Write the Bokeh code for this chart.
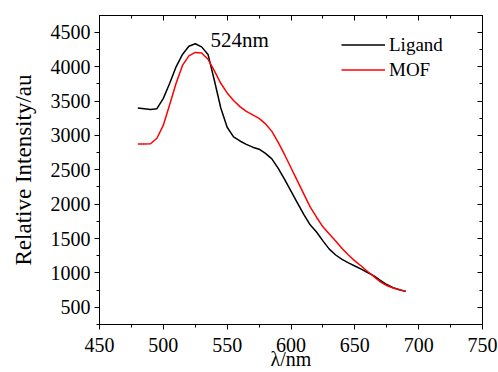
from bokeh.plotting import figure
from bokeh.models import (Range1d, LinearAxis, SingleIntervalTicker, Legend, LegendItem,
                          Label, CustomJSTickFormatter)
from bokeh.embed import file_html
from bokeh.resources import INLINE

wavelength = [480, 485, 490, 495, 500, 505, 510, 515, 520, 525, 530, 535, 540, 545, 550,
              555, 560, 565, 570, 575, 580, 585, 590, 595, 600, 605, 610, 615, 620, 625,
              630, 635, 640, 645, 650, 655, 660, 665, 670, 675, 680, 685, 690]
ligand = [3400, 3390, 3380, 3390, 3540, 3760, 4000, 4180, 4300, 4335, 4290, 4180, 3800, 3400, 3120,
          2980, 2920, 2870, 2830, 2800, 2740, 2660, 2520, 2360, 2190, 2020, 1850, 1700, 1595, 1465,
          1345, 1260, 1195, 1145, 1100, 1055, 1005, 955, 892, 830, 785, 755, 730]
mof = [2875, 2875, 2880, 2960, 3150, 3450, 3760, 4020, 4160, 4210, 4200, 4110, 3940, 3760, 3620,
       3510, 3420, 3350, 3300, 3250, 3170, 3060, 2900, 2720, 2530, 2340, 2150, 1960, 1810, 1670,
       1565, 1465, 1355, 1260, 1175, 1100, 1020, 945, 868, 815, 780, 752, 730]
series_names = ["Ligand", "MOF"]
peak_label = "524nm"
peak_x, peak_y = 537, 4385

FONT = "Liberation Serif"

p = figure(width=498, height=372, output_backend="svg", toolbar_location=None,
           x_range=Range1d(450, 750), y_range=Range1d(248, 4747),
           min_border_left=99, min_border_right=16, min_border_top=15, min_border_bottom=48,
           x_axis_location=None, y_axis_location=None)
p.outline_line_color = "black"
p.outline_line_width = 1
p.xgrid.visible = False
p.ygrid.visible = False
p.background_fill_color = "white"
p.border_fill_color = "white"

def style(ax, labels=True, outward=True):
    ax.axis_line_color = "black"
    ax.axis_line_width = 1
    ax.major_tick_line_color = "black"
    ax.minor_tick_line_color = "black"
    if outward:
        ax.major_tick_out, ax.major_tick_in = 5, 0
        ax.minor_tick_out, ax.minor_tick_in = 3, 0
    else:
        ax.major_tick_out, ax.major_tick_in = 0, 5
        ax.minor_tick_out, ax.minor_tick_in = 0, 3
    if labels:
        ax.major_label_text_font = FONT
        ax.major_label_text_font_size = "20px"
        ax.major_label_text_color = "black"
    else:
        ax.formatter = CustomJSTickFormatter(code="return ''")
        ax.major_label_text_font_size = "0px"
        ax.major_label_standoff = 0

xb = LinearAxis(ticker=SingleIntervalTicker(interval=50, num_minor_ticks=2))
style(xb)
xb.major_label_standoff = 8
xb.axis_label = "λ/nm"
xb.axis_label_text_font = FONT
xb.axis_label_text_font_size = "20px"
xb.axis_label_text_font_style = "normal"
xb.axis_label_text_color = "black"
xb.axis_label_standoff = -7
p.add_layout(xb, "below")

yl = LinearAxis(ticker=SingleIntervalTicker(interval=500, num_minor_ticks=2))
style(yl)
yl.major_label_standoff = 4
yl.axis_label = "Relative Intensity/au"
yl.axis_label_text_font = FONT
yl.axis_label_text_font_size = "23px"
yl.axis_label_text_font_style = "normal"
yl.axis_label_text_color = "black"
yl.axis_label_standoff = 12
p.add_layout(yl, "left")

xt = LinearAxis(ticker=SingleIntervalTicker(interval=50, num_minor_ticks=2))
style(xt, labels=False, outward=False)
p.add_layout(xt, "above")

yr = LinearAxis(ticker=SingleIntervalTicker(interval=500, num_minor_ticks=2))
style(yr, labels=False, outward=False)
p.add_layout(yr, "right")

r1 = p.line(wavelength, ligand, line_color="black", line_width=1.5)
r2 = p.line(wavelength, mof, line_color="#ff0000", line_width=1.5)

legend = Legend(items=[LegendItem(label=series_names[0], renderers=[r1]),
                       LegendItem(label=series_names[1], renderers=[r2])],
                location=(242, 242))
legend.border_line_color = None
legend.background_fill_alpha = 0
legend.padding = 0
legend.margin = 0
legend.spacing = 0
legend.glyph_width = 44
legend.glyph_height = 25
legend.label_height = 25
legend.label_standoff = 4
legend.label_text_font = FONT
legend.label_text_font_size = "19px"
legend.label_text_color = "black"
p.add_layout(legend)

p.add_layout(Label(x=peak_x, y=peak_y, text=peak_label, text_font=FONT,
                   text_font_size="21px", text_baseline="middle", text_align="left",
                   text_color="black"))

open("out.html", "w").write(file_html(p, INLINE))
